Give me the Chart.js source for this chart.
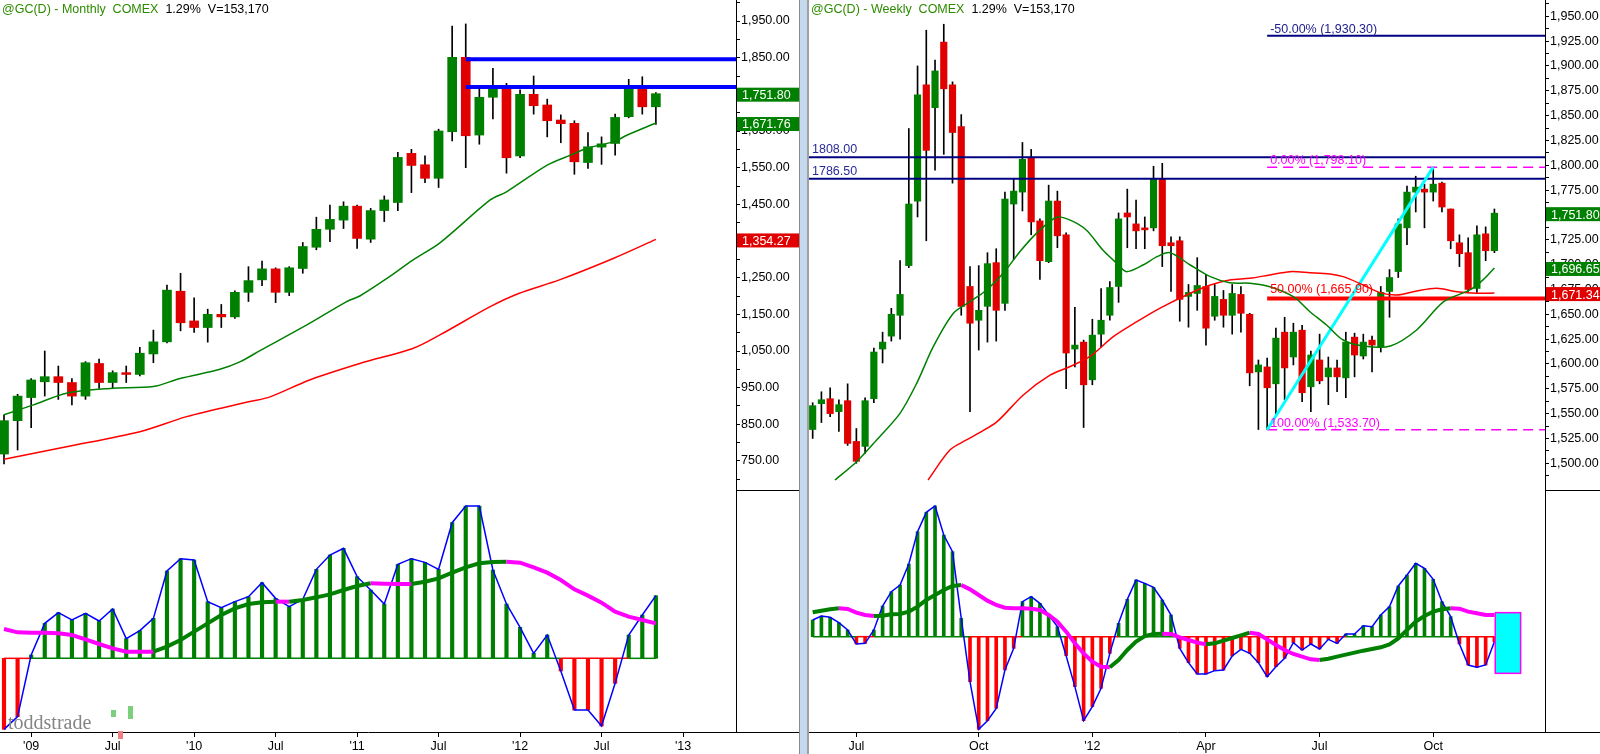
<!DOCTYPE html>
<html>
<head>
<meta charset="utf-8">
<title>@GC(D) Monthly / Weekly</title>
<script src="https://cdn.jsdelivr.net/npm/chart.js@4.4.1/dist/chart.umd.min.js"></script>
<style>
  html, body { margin: 0; padding: 0; background: #fff; }
  body { width: 1600px; height: 754px; position: relative; overflow: hidden; font-family: "Liberation Sans", Arial, sans-serif; }
  canvas { position: absolute; }
  .title { position: absolute; top: 2px; font-size: 12.5px; white-space: pre; color: #000; }
  .title .sym { color: #2e8b00; }
  .sep { position: absolute; left: 799px; top: 0; width: 7px; height: 754px; background: #c4d8ee; border-left: 1px solid #8a8a8a; border-right: 2px solid #a0a0a0; }
  .rule { position: absolute; height: 1px; background: #000; }
  .mark { position: absolute; left: 8px; top: 711px; font-family: "Liberation Serif", "DejaVu Serif", serif; font-size: 20px; color: #858585; }
  .ico { position: absolute; }
</style>
</head>
<body>
<canvas id="leftPrice" width="800" height="490" style="left:0px;top:0px"></canvas>
<canvas id="leftOsc" width="800" height="264" style="left:0px;top:490px"></canvas>
<canvas id="rightPrice" width="791" height="490" style="left:809px;top:0px"></canvas>
<canvas id="rightOsc" width="791" height="264" style="left:809px;top:490px"></canvas>
<div class="sep"></div>
<div class="rule" style="left:736px;width:63px;top:490px"></div>
<div class="rule" style="left:1545px;width:55px;top:490px"></div>
<div class="rule" style="left:736px;width:63px;top:732px"></div>
<div class="rule" style="left:1545px;width:55px;top:732px"></div>
<div class="title" style="left:2px"><span class="sym">@GC(D) - Monthly  COMEX</span>  1.29%  V=153,170</div>
<div class="title" style="left:811px"><span class="sym">@GC(D) - Weekly  COMEX</span>  1.29%  V=153,170</div>
<div class="mark">toddstrade</div>
<div class="ico" style="left:111px;top:710px;width:5px;height:7px;background:#7ccf7c"></div>
<div class="ico" style="left:128px;top:706px;width:5px;height:13px;background:#7ccf7c"></div>
<div class="ico" style="left:118px;top:731px;width:5px;height:8px;background:#f08080"></div>
<script>
// ---- monthly candles, Nov '08 .. Nov '12 ----
const monthOpen = [769,860,923,966,980,964,927,1016,964,991,986,1042,1075,1213,1132,1114,1150,1143,1210,1244,1274,1210,1275,1333,1382,1407,1445,1355,1433,1455,1589,1558,1521,1648,1851,1639,1742,1773,1582,1750,1721,1680,1671,1564,1606,1616,1689,1766,1716];
const monthHigh = [876,932,975,1050,1009,975,1021,1028,996,1009,1060,1107,1230,1262,1195,1164,1177,1214,1280,1295,1277,1280,1346,1415,1448,1457,1448,1439,1473,1592,1600,1582,1655,1936,1942,1764,1821,1780,1762,1800,1737,1694,1678,1646,1634,1696,1791,1798,1755];
const monthLow = [742,780,841,927,918,903,918,948,948,964,982,1018,1072,1105,1101,1074,1114,1139,1185,1228,1182,1201,1262,1326,1348,1384,1330,1346,1403,1433,1482,1509,1496,1623,1550,1614,1683,1535,1577,1696,1634,1618,1532,1548,1559,1584,1686,1696,1668];
const monthClose = [860,927,971,980,964,927,1018,964,991,986,1044,1075,1216,1127,1114,1150,1143,1210,1242,1274,1210,1277,1335,1382,1409,1445,1357,1433,1462,1578,1556,1521,1650,1851,1637,1742,1766,1577,1750,1719,1678,1670,1566,1607,1615,1687,1766,1716,1751.8];
const monthMaFast = [[0,876],[2.16,903],[4.6,935],[7.8,948],[11,953],[12.96,975],[15.9,1000],[17.4,1021],[18.85,1051],[22.3,1121],[25.2,1184],[26.2,1200],[28.2,1248],[30.1,1298],[32.1,1345],[35.8,1462],[37,1484],[40,1557],[41.9,1587],[42.9,1603],[44.9,1621],[45.9,1639],[48,1671.76]];
const monthMaSlow = [[0,755],[4.6,789],[10,830],[13.45,871],[18.1,912],[19.6,925],[22.5,971],[26.2,1016],[30.1,1057],[32.1,1094],[35.8,1171],[37.9,1207],[40.9,1244],[44.9,1303],[48,1354.27]];
const monthResistance = [1846, 1770];
const monthResistFrom = 34;
const monthHist = [-213,-175,10,105,137,115,135,112,148,59,83,120,262,299,295,170,152,170,185,227,180,155,177,267,310,330,245,205,163,282,299,288,267,407,457,457,265,163,93,15,70,-38,-155,-155,-203,-75,70,130,188];
const monthSignal = [88,78,77,77,75,70,57,43,30,20,20,20,35,55,80,105,130,150,163,168,170,170,175,183,192,205,217,225,224,223,223,230,240,257,273,285,289,290,287,273,257,235,207,188,167,140,125,115,105];
const monthTickIdx = [2, 8, 14, 20, 26, 32, 38, 44, 50];
const monthTickLabels = ["'09", 'Jul', "'10", 'Jul', "'11", 'Jul', "'12", 'Jul', "'13"];
const monthPriceLabels = [750, 850, 950, 1050, 1150, 1250, 1350, 1450, 1550, 1650, 1750, 1850, 1950];

// ---- weekly candles, May '11 .. Nov '12 ----
const weekOpen = [1534,1560,1565,1552,1563,1522,1517,1565,1615,1628,1649,1699,1764,1881,1858,1924,1881,1839,1678,1644,1658,1702,1661,1761,1773,1808,1744,1703,1764,1730,1615,1622,1584,1630,1649,1678,1752,1741,1737,1737,1786,1722,1724,1668,1671,1678,1648,1665,1649,1670,1650,1592,1597,1580,1632,1607,1634,1577,1604,1587,1596,1586,1627,1608,1624,1617,1673,1693,1737,1773,1776,1773,1782,1756,1722,1712,1676,1731,1714];
const weekHigh = [1561,1572,1576,1564,1580,1535,1566,1616,1632,1656,1704,1837,1900,1936,1906,1942,1884,1851,1698,1699,1712,1716,1773,1786,1823,1816,1746,1780,1774,1732,1657,1624,1645,1676,1683,1752,1776,1765,1748,1799,1802,1728,1728,1680,1707,1690,1680,1674,1680,1678,1651,1604,1606,1636,1647,1641,1639,1613,1630,1607,1604,1632,1631,1630,1628,1678,1695,1746,1779,1789,1781,1798,1783,1756,1730,1727,1739,1738,1756];
const weekLow = [1525,1541,1547,1532,1518,1500,1510,1561,1601,1623,1625,1697,1748,1724,1795,1811,1782,1649,1552,1614,1622,1623,1654,1705,1754,1730,1685,1702,1717,1575,1597,1536,1579,1617,1644,1662,1717,1716,1716,1734,1698,1673,1643,1637,1654,1619,1644,1637,1630,1632,1578,1534,1534,1550,1564,1599,1562,1552,1580,1559,1572,1566,1587,1605,1592,1612,1647,1687,1720,1753,1737,1764,1753,1716,1698,1673,1672,1704,1712];
const weekClose = [1558,1564,1550,1559,1520,1502,1563,1612,1622,1650,1670,1761,1871,1815,1895,1877,1833,1658,1641,1654,1701,1654,1766,1774,1806,1743,1704,1764,1729,1611,1619,1579,1629,1644,1677,1746,1748,1734,1735,1786,1719,1719,1665,1672,1679,1636,1668,1649,1671,1651,1591,1599,1576,1626,1596,1632,1571,1609,1583,1596,1587,1622,1609,1622,1619,1672,1687,1741,1773,1778,1773,1781,1758,1724,1711,1675,1730,1714,1751.8];
const weekMaFast = [[2.55,1483.2],[5.03,1501.6],[7.32,1523.5],[9.99,1550.3],[11.9,1580.5],[13.8,1617.4],[16.1,1651],[18,1662.7],[19.9,1674.5],[21.8,1691.3],[23.7,1713],[25.6,1731.5],[27.9,1747.7],[29.4,1745],[31.3,1734.9],[33.2,1714.7],[35,1699.6],[35.9,1692.9],[37.8,1699.6],[39.4,1708],[40.9,1712],[43.2,1699.6],[45.5,1687.9],[47.7,1681.8],[50,1681.2],[52.3,1677.8],[55,1667.7],[56.9,1652.6],[58.8,1639.2],[60.7,1624.1],[63,1618.1],[66.1,1618.1],[69.1,1634.2],[72.2,1662.7],[75.2,1674.5],[76.7,1684.6],[78,1696.65]];
const weekMaSlow = [[13.2,1483.2],[15.7,1513.4],[17.6,1523.5],[19.1,1530.8],[21.1,1541.9],[24.1,1568.8],[27.2,1588.9],[29.4,1597.2],[31.7,1607.3],[34.4,1627.5],[37.1,1642.6],[39.7,1656],[43.2,1671.2],[45.5,1679.5],[47.7,1684.6],[50,1686.2],[52.3,1689.6],[54.6,1692.9],[56.9,1691.9],[59.2,1690.6],[60.7,1687.9],[63,1679.5],[64.9,1671.8],[66.8,1669.4],[69.1,1673.5],[71.4,1676.2],[73.7,1672.8],[76,1671.1],[78,1671.34]];
const weekLevels = [1808.00, 1786.50];
const fibValues = [1930.30, 1798.10, 1665.90, 1533.70];
const fibNames = ['-50.00%', '0.00%', '50.00%', '100.00%'];
const fibSwing = [[52.0, 1533.70], [71.0, 1798.10]];
const weekHist = [50,62,58,42,20,-22,-20,20,92,135,155,218,315,373,392,305,255,55,-135,-278,-252,-215,-100,-35,105,120,100,65,30,-57,-150,-252,-210,-155,-50,40,112,170,160,148,110,65,-35,-78,-112,-112,-102,-100,-58,-38,-50,-78,-120,-90,-65,-18,-40,-22,-37,-8,-20,8,8,33,30,65,90,152,185,220,205,172,105,60,-22,-85,-92,-85,-15];
const weekSignal = [73,78,82,85,83,72,65,62,63,67,68,75,90,110,125,140,152,155,142,125,108,95,87,85,85,84,80,65,45,15,-20,-50,-75,-90,-92,-70,-40,-15,2,8,9,8,-2,-10,-18,-23,-20,-12,-4,4,12,8,-8,-25,-40,-52,-60,-68,-70,-66,-60,-54,-48,-42,-37,-32,-23,-5,20,45,62,75,82,85,84,75,70,65,65];
const weekProjection = { from: 78.1, to: 81.0, top: 72, bottom: -110 };
const weekTickIdx = [5, 19, 32, 45, 58, 71];
const weekTickLabels = ['Jul', 'Oct', "'12", 'Apr', 'Jul', 'Oct'];
const weekPriceLabels = [1500,1525,1550,1575,1600,1625,1650,1675,1700,1725,1750,1775,1800,1825,1850,1875,1900,1925,1950];

const FONT = { family: '"Liberation Sans", Arial, sans-serif', size: 12.5 };
const FONT_CSS = '12.5px "Liberation Sans", Arial, sans-serif';
const UP = '#008000', DOWN = '#e00000';
const fmt = v => v.toLocaleString('en-US', { minimumFractionDigits: 2, maximumFractionDigits: 2 });
const pts = arr => arr.map(([x, y]) => ({ x, y }));

function candleSets(open, high, low, close, bodyWidth) {
  return [
    { type: 'bar', data: open.map((o, i) => ({ x: i, y: [o, close[i]] })), grouped: false, barThickness: bodyWidth, order: 5,
      backgroundColor: c => (c.raw && c.raw.y[1] < c.raw.y[0]) ? DOWN : UP },
    { type: 'bar', data: low.map((l, i) => ({ x: i, y: [l, high[i]] })), grouped: false, barThickness: 1, order: 6, backgroundColor: '#000' }
  ];
}

function line(data, color, width, extra) {
  return Object.assign({ type: 'line', data, borderColor: color, borderWidth: width, pointRadius: 0, order: 1 }, extra || {});
}

function hline(y, x0, x1, color, width, extra) {
  return line([{ x: x0, y }, { x: x1, y }], color, width, extra);
}

// text over the plot, anchored to data values
function textPlugin(id, items) {
  return {
    id,
    afterDatasetsDraw(chart) {
      const { ctx, scales: { x, y } } = chart;
      ctx.save();
      ctx.font = FONT_CSS;
      items.forEach(it => {
        ctx.fillStyle = it.color;
        ctx.fillText(it.text, x.getPixelForValue(it.x) + 3, y.getPixelForValue(it.y) - it.lift);
      });
      ctx.restore();
    }
  };
}

// last value boxes on the price axis
function boxPlugin(id, items) {
  return {
    id,
    afterDraw(chart) {
      const { ctx, chartArea, scales: { y } } = chart;
      ctx.save();
      ctx.font = FONT_CSS;
      ctx.textBaseline = 'middle';
      items.forEach(it => {
        const py = y.getPixelForValue(it.value) + 1;
        ctx.fillStyle = it.color;
        ctx.fillRect(chartArea.right + 1, py - 7, chart.width - chartArea.right, 14);
        ctx.fillStyle = '#fff';
        ctx.fillText(fmt(it.value), chartArea.right + 6, py + 1);
      });
      ctx.restore();
    }
  };
}

function priceChart(id, cfg) {
  return new Chart(document.getElementById(id), {
    type: 'bar',
    data: { datasets: cfg.datasets },
    options: {
      responsive: false, animation: false,
      layout: { padding: 0 },
      plugins: { legend: { display: false }, tooltip: { enabled: false } },
      scales: {
        x: { type: 'linear', min: cfg.xMin, max: cfg.xMax, offset: false, display: false },
        y: {
          position: 'right', min: cfg.yMin, max: cfg.yMax, beginAtZero: false,
          afterFit: s => { s.width = cfg.axisWidth; s.paddingTop = 0; s.paddingBottom = 0; },
          afterBuildTicks: s => {
            const t = [];
            cfg.labels.forEach(v => { t.push(v - cfg.step / 2, v); });
            t.push(cfg.labels[cfg.labels.length - 1] + cfg.step / 2);
            s.ticks = t.filter(v => v > cfg.yMin && v < cfg.yMax).map(v => ({ value: v }));
          },
          ticks: { autoSkip: false, font: FONT, color: '#000', padding: 1,
            callback: v => cfg.labels.includes(v) ? fmt(v) : '' },
          grid: { drawOnChartArea: false, offset: false, tickLength: 4, color: '#000' },
          border: { color: '#000' }
        }
      }
    },
    plugins: cfg.plugins || []
  });
}

function oscChart(id, cfg) {
  const hist = cfg.hist;
  return new Chart(document.getElementById(id), {
    type: 'bar',
    data: { datasets: [
      line(cfg.signal.map((v, i) => ({ x: i, y: v })), '#008000', 4, { order: 0,
        segment: { borderColor: c => c.p1.parsed.y > c.p0.parsed.y ? '#008000' : '#ff00ff' } }),
      line(hist.map((v, i) => ({ x: i, y: v })), '#0000ff', 1.5, { order: 1 }),
      line(hist.map((v, i) => ({ x: i, y: 0 })), '#008000', 1.5, { order: 2,
        segment: { borderColor: c => hist[c.p0DataIndex] < 0 ? '#ff0000' : '#008000' } }),
      { type: 'bar', data: hist.map((v, i) => ({ x: i, y: [0, v] })), grouped: false, barThickness: cfg.barWidth, order: 3,
        backgroundColor: c => (c.raw && c.raw.y[1] < 0) ? '#ff0000' : '#008000' }
    ] },
    options: {
      responsive: false, animation: false,
      layout: { padding: 0 },
      plugins: { legend: { display: false }, tooltip: { enabled: false } },
      scales: {
        x: {
          type: 'linear', min: cfg.xMin, max: cfg.xMax, offset: false,
          afterFit: s => { s.height = 22; s.paddingLeft = 0; s.paddingRight = 0; },
          afterBuildTicks: s => { s.ticks = cfg.tickIdx.map(v => ({ value: v })); },
          ticks: { autoSkip: false, maxRotation: 0, font: FONT, color: '#000', padding: 2,
            callback: (v, i) => cfg.tickLabels[i] },
          grid: { drawOnChartArea: false, offset: false, tickLength: 5, color: '#000' },
          border: { color: '#000' }
        },
        y: {
          position: 'right', min: cfg.yMin, max: cfg.yMax,
          afterFit: s => { s.width = cfg.axisWidth; s.paddingTop = 0; s.paddingBottom = 0; },
          ticks: { display: false }, grid: { display: false },
          border: { color: '#000' }
        }
      }
    },
    plugins: cfg.plugins || []
  });
}

// ---- left: monthly ----
const mX = [-0.295, 53.9];
priceChart('leftPrice', {
  xMin: mX[0], xMax: mX[1], yMin: 670.9, yMax: 2007.3, axisWidth: 64, step: 100, labels: monthPriceLabels,
  datasets: [
    line(pts(monthMaFast), '#008000', 1.5, { tension: 0.3, order: 0 }),
    line(pts(monthMaSlow), '#ff0000', 1.5, { tension: 0.3, order: 0 }),
    ...monthResistance.map(v => hline(v, monthResistFrom, mX[1], '#0000ff', 4, { order: 0 })),
    ...candleSets(monthOpen, monthHigh, monthLow, monthClose, 9)
  ],
  plugins: [boxPlugin('mBoxes', [
    { value: 1751.80, color: '#008000' },
    { value: 1671.76, color: '#008000' },
    { value: 1354.27, color: '#e00000' }
  ])]
});
oscChart('leftOsc', {
  xMin: mX[0], xMax: mX[1], yMin: -221, yMax: 505, axisWidth: 64, barWidth: 3.5,
  hist: monthHist, signal: monthSignal, tickIdx: monthTickIdx, tickLabels: monthTickLabels
});

// ---- right: weekly ----
const wX = [-0.42, 83.79];
const fibColors = ['#000080', '#ff00ff', '#ff0000', '#ff00ff'];
const fibWidths = [2, 1.5, 4, 1.5];
priceChart('rightPrice', {
  xMin: wX[0], xMax: wX[1], yMin: 1473.1, yMax: 1966.4, axisWidth: 55, step: 25, labels: weekPriceLabels,
  datasets: [
    line(pts(weekMaFast), '#008000', 1.5, { tension: 0.3, order: 0 }),
    line(pts(weekMaSlow), '#ff0000', 1.5, { tension: 0.3, order: 0 }),
    ...weekLevels.map(v => hline(v, wX[0], wX[1], '#000080', 2, { order: 1 })),
    ...fibValues.map((v, k) => hline(v, fibSwing[0][0], wX[1], fibColors[k], fibWidths[k],
      { order: 1, borderDash: fibColors[k] === '#ff00ff' ? [10, 6] : [] })),
    line(pts(fibSwing), '#00ffff', 3, { order: 0 }),
    ...candleSets(weekOpen, weekHigh, weekLow, weekClose, 6.5)
  ],
  plugins: [
    textPlugin('wText', [
      ...weekLevels.map(v => ({ x: wX[0], y: v, text: v.toFixed(2), color: '#2a2a9a', lift: 4 })),
      ...fibValues.map((v, k) => ({ x: fibSwing[0][0], y: v, text: fibNames[k] + ' (' + fmt(v) + ')',
        color: fibColors[k] === '#000080' ? '#202090' : fibColors[k], lift: k === 2 ? 5 : 3 }))
    ]),
    boxPlugin('wBoxes', [
      { value: 1751.80, color: '#008000' },
      { value: 1696.65, color: '#008000' },
      { value: 1671.34, color: '#e00000' }
    ])
  ]
});
oscChart('rightOsc', {
  xMin: wX[0], xMax: wX[1], yMin: -286, yMax: 440, axisWidth: 55, barWidth: 3,
  hist: weekHist, signal: weekSignal, tickIdx: weekTickIdx, tickLabels: weekTickLabels,
  plugins: [{
    id: 'projection',
    afterDatasetsDraw(chart) {
      const { ctx, scales: { x, y } } = chart;
      const x0 = x.getPixelForValue(weekProjection.from), x1 = x.getPixelForValue(weekProjection.to);
      const y0 = y.getPixelForValue(weekProjection.top), y1 = y.getPixelForValue(weekProjection.bottom);
      ctx.save();
      ctx.fillStyle = '#00ffff';
      ctx.fillRect(x0, y0, x1 - x0, y1 - y0);
      ctx.strokeStyle = '#ff00ff';
      ctx.lineWidth = 1.5;
      ctx.strokeRect(x0, y0, x1 - x0, y1 - y0);
      ctx.restore();
    }
  }]
});
</script>
</body>
</html>
